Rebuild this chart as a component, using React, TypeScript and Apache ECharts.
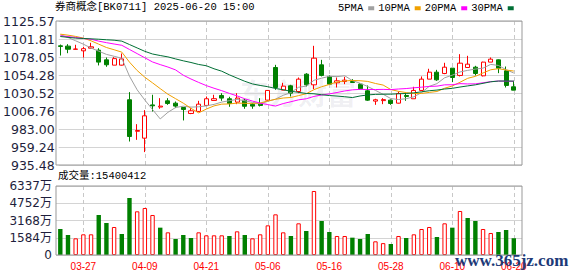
import React, { useEffect, useRef } from 'react';
import * as echarts from 'echarts';

const TITLE = '券商概念[BK0711] 2025-06-20 15:00';
const VOL_TITLE = '成交量:15400412';

const DATES = [
  '03-24','03-25','03-26','03-27','03-28','03-31','04-01','04-02','04-03','04-07',
  '04-08','04-09','04-10','04-11','04-14','04-15','04-16','04-17','04-18','04-21',
  '04-22','04-23','04-24','04-25','04-28','04-29','04-30','05-06','05-07','05-08',
  '05-09','05-12','05-13','05-14','05-15','05-16','05-19','05-20','05-21','05-22',
  '05-23','05-26','05-27','05-28','05-29','05-30','06-03','06-04','06-05','06-06',
  '06-09','06-10','06-11','06-12','06-13','06-16','06-17','06-18','06-19','06-20',
];
const LABEL_DATES = ['03-27','04-09','04-21','05-06','05-16','05-28','06-10','06-20'];

const OPEN = [
  1092.8,1092.4,1088.2,1086.2,1089.7,1087.1,1074.3,1067.3,1067.3,1021.6,
  980.0,970.9,1014.8,1012.0,1020.2,1017.1,1011.4,1003.5,1006.2,1014.1,
  1020.7,1027.3,1022.9,1018.5,1021.1,1015.5,1016.7,1021.1,1064.2,1034.3,
  1040.0,1032.5,1055.4,1041.3,1067.7,1052.4,1044.0,1045.7,1045.7,1042.2,
  1033.4,1019.8,1020.5,1021.1,1017.1,1027.3,1022.9,1033.9,1048.8,1058.0,
  1056.3,1063.3,1053.7,1064.2,1064.6,1053.2,1071.3,1074.3,1059.8,1038.7,
];
const CLOSE = [
  1092.0,1088.3,1088.6,1089.0,1091.5,1071.3,1067.8,1075.9,1075.5,973.1,
  981.0,1000.4,1013.6,1013.2,1016.7,1013.2,1008.8,1007.0,1015.8,1022.9,
  1023.0,1023.8,1016.7,1023.8,1013.0,1013.2,1014.1,1033.9,1037.8,1039.6,
  1030.3,1048.8,1041.3,1076.5,1053.7,1042.2,1046.6,1047.5,1044.4,1036.1,
  1021.1,1021.6,1021.8,1016.7,1029.9,1026.0,1033.9,1048.8,1058.0,1047.9,
  1064.6,1051.0,1069.9,1068.6,1056.3,1071.3,1075.2,1063.3,1040.5,1034.3,
];
const LOW = [
  1080.0,1083.1,1088.0,1077.4,1089.3,1066.9,1065.1,1067.3,1066.8,966.5,
  968.7,952.5,1006.1,1009.7,1014.9,1010.6,994.3,1002.6,1005.3,1014.1,
  1020.7,1020.2,1012.3,1015.8,1009.7,1009.7,1012.7,1020.2,1034.7,1034.3,
  1025.9,1030.3,1039.1,1035.6,1052.4,1041.3,1037.8,1042.2,1044.0,1034.7,
  1020.2,1014.9,1015.8,1014.9,1016.7,1020.2,1022.9,1033.4,1048.8,1046.6,
  1055.4,1044.9,1052.4,1064.2,1053.7,1052.4,1071.3,1056.7,1037.8,1034.3,
];
const HIGH = [
  1094.5,1095.0,1094.2,1091.5,1096.8,1089.7,1077.4,1077.9,1082.7,1031.7,
  989.4,1007.9,1028.2,1023.7,1023.7,1019.3,1012.0,1010.5,1020.2,1025.9,
  1028.2,1030.3,1025.5,1030.3,1022.9,1017.1,1023.7,1034.5,1067.7,1044.0,
  1041.3,1051.0,1056.7,1092.8,1074.3,1053.7,1051.0,1051.9,1048.8,1043.5,
  1040.5,1022.9,1023.7,1022.0,1032.5,1030.3,1038.7,1052.4,1062.5,1061.1,
  1070.4,1063.3,1081.8,1079.6,1066.4,1071.8,1077.4,1074.8,1065.5,1046.6,
];
// volume in 万 (10,000 shares)
const VOLUME = [
  2388,1837,1531,1899,1899,3674,2939,2572,1929,5235,
  4011,4317,3674,2511,2082,1470,1837,1560,2082,1807,
  1807,1807,1746,2174,1837,1531,1899,2725,3735,2082,
  1746,2909,2205,5878,3123,2113,1746,1746,1592,1470,
  1929,1256,1090,1011,1746,1562,1899,2388,2572,1654,
  2909,2511,4041,3399,3123,2388,2021,2113,2297,1540.04,
];
const MA5 = [
  1107.3,1103.8,1099.4,1095.0,1089.9,1085.7,1081.5,1079.0,1076.4,1052.7,
  1034.7,1021.2,1008.7,996.3,1005.0,1011.4,1013.1,1011.9,1012.3,1013.5,
  1015.5,1018.5,1020.4,1022.0,1020.3,1018.1,1016.2,1019.6,1022.4,1027.5,
  1031.1,1038.1,1039.6,1047.3,1050.1,1052.5,1052.1,1053.3,1046.9,1043.4,
  1039.1,1034.0,1028.8,1023.2,1021.9,1023.0,1025.5,1031.1,1039.3,1042.9,
  1050.6,1054.1,1058.3,1060.4,1062.1,1063.4,1068.3,1066.9,1061.3,1056.9,
];
const MA10 = [
  1108.2,1106.9,1105.2,1103.0,1099.4,1095.0,1090.6,1087.6,1084.5,1071.3,
  1060.2,1051.3,1043.9,1036.3,1028.9,1023.0,1017.1,1010.3,1004.3,1009.3,
  1013.5,1015.8,1016.1,1017.2,1016.9,1016.8,1017.3,1020.0,1022.2,1023.9,
  1024.6,1027.1,1029.6,1034.9,1038.8,1041.8,1045.1,1046.4,1047.1,1046.7,
  1045.8,1043.1,1041.0,1035.1,1032.7,1031.1,1029.8,1029.9,1031.3,1032.5,
  1036.8,1039.8,1044.7,1049.9,1052.5,1057.0,1061.2,1062.6,1060.9,1059.5,
];
const MA20 = [
  1106.0,1105.0,1103.8,1102.5,1101.5,1099.0,1097.0,1095.2,1093.5,1088.0,
  1082.5,1077.0,1071.5,1068.0,1064.8,1061.0,1054.0,1049.0,1044.5,1040.3,
  1036.8,1033.6,1030.0,1026.7,1022.9,1019.9,1017.2,1015.2,1013.3,1016.6,
  1019.0,1021.5,1022.9,1026.0,1027.9,1029.3,1031.2,1033.2,1034.7,1035.3,
  1035.2,1035.1,1035.3,1035.0,1035.8,1036.4,1037.4,1038.2,1039.2,1039.6,
  1041.3,1041.4,1042.9,1042.5,1042.6,1044.0,1045.5,1046.3,1046.1,1046.0,
];
const MA30 = [
  1105.1,1104.0,1103.0,1102.5,1102.0,1101.5,1100.8,1100.2,1099.0,1094.5,
  1090.0,1085.5,1082.0,1080.0,1078.2,1075.5,1073.0,1070.8,1068.2,1066.5,
  1062.5,1059.3,1054.5,1050.2,1046.0,1042.5,1040.5,1038.8,1036.5,1034.8,
  1032.8,1031.4,1029.9,1029.5,1028.2,1027.2,1026.5,1025.6,1024.5,1026.6,
  1028.0,1028.7,1028.9,1029.0,1029.5,1029.9,1030.7,1032.1,1033.5,1034.4,
  1035.8,1036.7,1038.4,1039.9,1041.3,1043.3,1045.3,1046.3,1046.4,1046.2,
];

const PRICE_MIN = 935.48;
const PRICE_MAX = 1125.57;
const PRICE_TICKS = ['935.48','959.24','983.00','1006.76','1030.52','1054.28','1078.05','1101.81','1125.57'];
const VOL_MAX = 6337;
const VOL_TICKS = ['0','1584万','3168万','4752万','6337万'];

const MA_NAMES = ['5PMA','10PMA','20PMA','30PMA'];
const MA_COLORS = ['#a0a0a0','#f0a000','#ff00ff','#006f35'];

export default function App() {
  const ref = useRef<HTMLDivElement>(null);
  useEffect(() => {
    document.body.style.margin = '0';
    const chart = echarts.init(ref.current!, null, { renderer: 'svg' });
    const mono = "'Liberation Mono', 'Noto Sans CJK SC', monospace";
    const sans = "'DejaVu Sans', 'Noto Sans CJK SC', sans-serif";
    const isLabel = (idx: number) => LABEL_DATES.indexOf(DATES[idx]) >= 0;
    const dashed = { show: true, interval: (idx: number) => isLabel(idx), lineStyle: { color: '#c8c8c8', type: [4, 3], width: 1 } };
    const maData = [MA5, MA10, MA20, MA30];

    const option: any = {
      animation: false,
      backgroundColor: '#ffffff',
      title: [
        { text: TITLE, left: 55, top: 2, padding: 0, textStyle: { fontFamily: mono, fontSize: 10.5, fontWeight: 'normal', color: '#000' } },
        { text: VOL_TITLE, left: 58, top: 171, padding: 0, textStyle: { fontFamily: mono, fontSize: 10.5, fontWeight: 'normal', color: '#000' } },
      ],
      legend: {
        left: 338, top: 3, padding: 0, align: 'right', icon: 'rect', itemWidth: 6, itemHeight: 4, itemGap: 4,
        textStyle: { fontFamily: mono, fontSize: 10.5, color: '#000' },
        data: MA_NAMES,
      },
      grid: [
        { left: 56, top: 21, width: 466, height: 144 },
        { left: 60.3, top: 21, width: 453.5, height: 144 },
        { left: 56, top: 186, width: 466, height: 69 },
        { left: 60.3, top: 186, width: 453.5, height: 69 },
      ],
      xAxis: [
        { type: 'value', gridIndex: 0, min: 0, max: 1, show: false },
        { type: 'category', gridIndex: 1, data: DATES, boundaryGap: false, axisLine: { show: false }, axisTick: { show: false }, axisLabel: { show: false }, splitLine: dashed },
        { type: 'value', gridIndex: 2, min: 0, max: 1, show: false },
        {
          type: 'category', gridIndex: 3, data: DATES, boundaryGap: false, axisLine: { show: false }, axisTick: { show: false },
          axisLabel: { interval: (idx: number) => isLabel(idx), color: '#ff0000', fontFamily: "'Liberation Sans', sans-serif", fontSize: 10, margin: 6 },
          splitLine: dashed,
        },
      ],
      yAxis: [
        {
          type: 'value', gridIndex: 0, min: 0, max: 8, interval: 1, axisLine: { show: false }, axisTick: { show: false },
          axisLabel: { formatter: (v: number) => PRICE_TICKS[Math.round(v)], fontFamily: sans, fontSize: 12.5, color: '#1e1e3c', margin: 4 },
          splitLine: { lineStyle: { color: '#d4d4d4', width: 1 } },
        },
        { type: 'value', gridIndex: 1, min: PRICE_MIN, max: PRICE_MAX, show: false },
        {
          type: 'value', gridIndex: 2, min: 0, max: 4, interval: 1, axisLine: { show: false }, axisTick: { show: false },
          axisLabel: { formatter: (v: number) => VOL_TICKS[Math.round(v)], fontFamily: sans, fontSize: 12, color: '#1e1e3c', margin: 4 },
          splitLine: { lineStyle: { color: '#d4d4d4', width: 1 } },
        },
        { type: 'value', gridIndex: 3, min: 0, max: VOL_MAX, show: false },
      ],
      graphic: [
        { type: 'text', x: 240, y: 77, z: -1, silent: true, style: { text: '东方财富', font: "bold 29px 'Noto Sans CJK SC'", fill: 'rgba(30,30,70,0.07)' } },
        { type: 'rect', z: 50, silent: true, shape: { x: 56, y: 21, width: 466, height: 144 }, style: { fill: 'none', stroke: '#999', lineWidth: 1 } },
        { type: 'rect', z: 50, silent: true, shape: { x: 56, y: 186, width: 466, height: 69 }, style: { fill: 'none', stroke: '#999', lineWidth: 1 } },
        { type: 'text', x: 455, y: 252, z: 60, silent: true, style: { text: 'www.365jz.com', font: "bold 17px 'Liberation Serif'", fill: '#1d3a78' } },
      ],
      series: [
        {
          type: 'candlestick', xAxisIndex: 1, yAxisIndex: 1, barWidth: 4.6, clip: false,
          data: DATES.map((_, i) => [OPEN[i], CLOSE[i], LOW[i], HIGH[i]]),
          itemStyle: { color: '#ffffff', color0: '#008000', borderColor: '#ff0000', borderColor0: '#008000', borderWidth: 1 },
        },
        ...MA_NAMES.map((name, k) => ({
          name, type: 'line', xAxisIndex: 1, yAxisIndex: 1, data: maData[k], showSymbol: false, symbol: 'none',
          lineStyle: { width: 1, color: MA_COLORS[k] }, itemStyle: { color: MA_COLORS[k] }, silent: true,
        })),
        {
          type: 'bar', xAxisIndex: 3, yAxisIndex: 3, barWidth: 4.4, clip: false,
          data: VOLUME.map((v, i) => {
            const up = i === 0 ? CLOSE[i] >= OPEN[i] : CLOSE[i] >= CLOSE[i - 1];
            return {
              value: v,
              itemStyle: up ? { color: '#ffffff', borderColor: '#ff0000', borderWidth: 1 } : { color: '#008000' },
            };
          }),
        },
      ],
    };
    chart.setOption(option);
    return () => chart.dispose();
  }, []);
  return <div ref={ref} style={{ width: 578, height: 276 }} />;
}
